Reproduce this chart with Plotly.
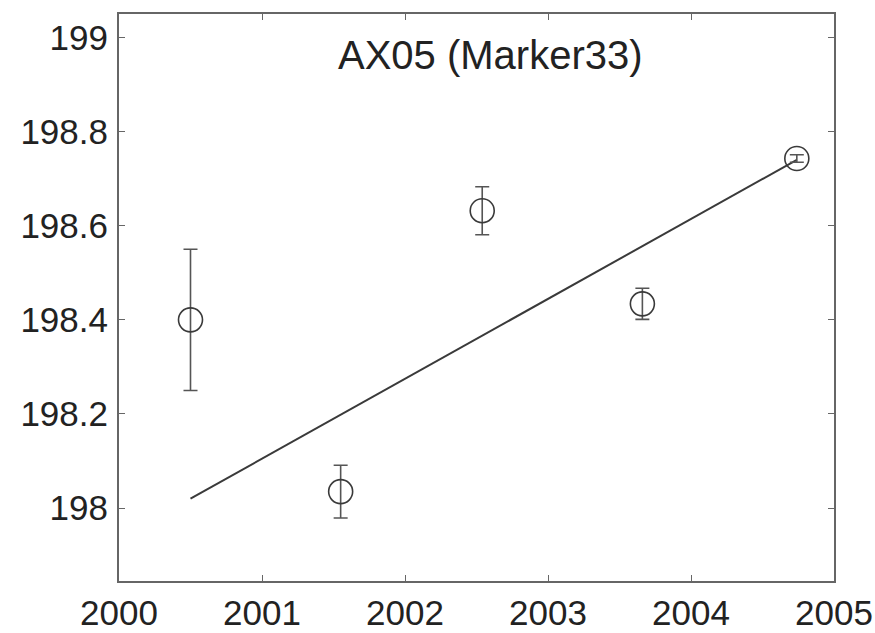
import plotly.graph_objects as go

# Data
years = [2000.50, 2001.55, 2002.54, 2003.66, 2004.74]
values = [198.40, 198.035, 198.632, 198.434, 198.743]
errors = [0.150, 0.056, 0.051, 0.033, 0.008]

fit_years = [2000.50, 2004.74]
fit_values = [198.020, 198.740]

x_ticks = [2000, 2001, 2002, 2003, 2004, 2005]
y_ticks = [198.0, 198.2, 198.4, 198.6, 198.8, 199.0]
y_tick_labels = ["198", "198.2", "198.4", "198.6", "198.8", "199"]

title_text = "AX05 (Marker33)"

ink = "#3a3a3a"
axis_col = "#666666"

fig = go.Figure()

fig.add_trace(go.Scatter(
    x=fit_years, y=fit_values, mode="lines",
    line=dict(color=ink, width=2), showlegend=False, hoverinfo="skip",
))

fig.add_trace(go.Scatter(
    x=years, y=values, mode="markers",
    marker=dict(symbol="circle-open", size=24, color=ink, line=dict(width=1.6, color=ink)),
    error_y=dict(type="data", array=errors, visible=True, color="#555555",
                 thickness=1.6, width=7),
    showlegend=False,
))

fig.add_annotation(
    text=title_text, xref="paper", yref="paper", x=0.519, y=0.928,
    xanchor="center", yanchor="middle", showarrow=False,
    font=dict(family="Liberation Sans, Arial, sans-serif", size=40, color="#222222"),
)

axis_common = dict(
    showgrid=False, zeroline=False, showline=True, linecolor=axis_col, linewidth=2,
    mirror="ticks", ticks="inside", ticklen=6, tickwidth=1.3, tickcolor=axis_col,
    automargin=False,
    tickfont=dict(family="Liberation Sans, Arial, sans-serif", size=35, color="#222222"),
)

fig.update_xaxes(range=[2000, 2005], tickvals=x_ticks, ticktext=[str(v) for v in x_ticks],
                 **axis_common)
fig.update_yaxes(range=[197.845, 199.05], tickvals=y_ticks, ticktext=y_tick_labels,
                 ticklabelstandoff=2, **axis_common)

fig.update_layout(
    width=875, height=633,
    margin=dict(l=119, r=41, t=14, b=52),
    paper_bgcolor="white", plot_bgcolor="white",
    showlegend=False,
)

fig.write_html("out.html")
